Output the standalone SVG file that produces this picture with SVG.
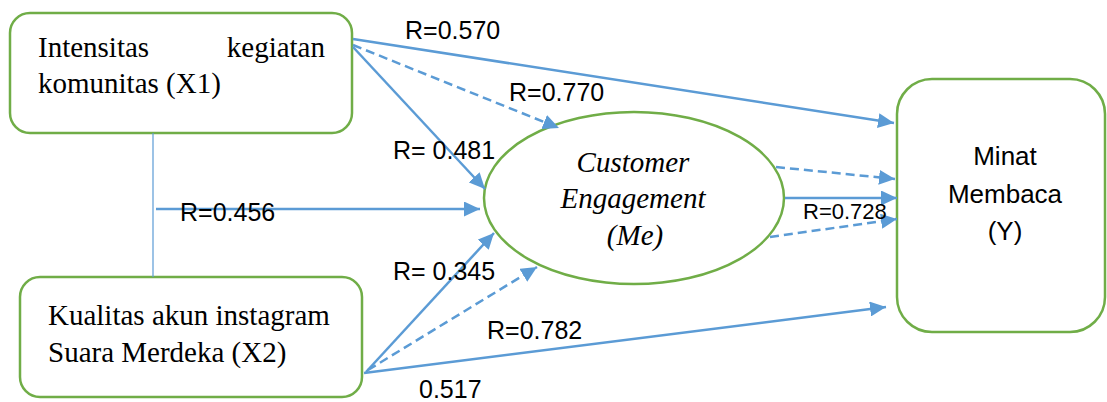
<svg xmlns="http://www.w3.org/2000/svg" width="1107" height="402" viewBox="0 0 1107 402">
<style>
.node{fill:#fff;stroke:#70AD47;stroke-width:2.5}
.serif{font-family:"Liberation Serif","Times New Roman",serif;font-size:29px;fill:#000}
.ital{font-style:italic}
.sans{font-family:"Liberation Sans",Arial,sans-serif;fill:#000}
.lbl{font-size:25px}
.c{fill:none;stroke:#5B9BD5;stroke-width:2.5}
.d{stroke-dasharray:9 5}
</style>
<defs>
<marker id="ah" markerUnits="userSpaceOnUse" markerWidth="17" markerHeight="15" refX="16" refY="7.5" orient="auto">
<path d="M0,0 L16,7.5 L0,15 z" fill="#5B9BD5"/>
</marker>
</defs>
<rect width="1107" height="402" fill="#fff"/>
<g id="x1">
<rect class="node" x="10" y="13" width="342" height="120" rx="20"/>
<text class="serif" x="38" y="57">Intensitas</text>
<text class="serif" x="325" y="57" text-anchor="end">kegiatan</text>
<text class="serif" x="38" y="93">komunitas (X1)</text>
</g>
<g id="x2">
<rect class="node" x="20" y="277" width="342" height="120" rx="20"/>
<text class="serif" x="48" y="325">Kualitas akun instagram</text>
<text class="serif" x="48" y="362">Suara Merdeka (X2)</text>
</g>
<g id="me">
<ellipse class="node" cx="634" cy="198" rx="150" ry="86"/>
<text class="serif ital" x="633" y="172" text-anchor="middle">Customer</text>
<text class="serif ital" x="633" y="208" text-anchor="middle">Engagement</text>
<text class="serif ital" x="635" y="245" text-anchor="middle">(Me)</text>
</g>
<g id="y">
<rect class="node" x="897" y="79" width="208" height="253" rx="35"/>
<text class="sans" font-size="26" x="1005" y="165" text-anchor="middle">Minat</text>
<text class="sans" font-size="26" x="1005" y="203" text-anchor="middle">Membaca</text>
<text class="sans" font-size="26" x="1005" y="240" text-anchor="middle">(Y)</text>
</g>
<g id="connectors">
<line x1="153" y1="133" x2="153" y2="277" stroke="#5B9BD5" stroke-width="1.2"/>
<line class="c" x1="353" y1="39" x2="894" y2="123" marker-end="url(#ah)"/>
<line class="c d" x1="353" y1="45" x2="559" y2="128" marker-end="url(#ah)"/>
<line class="c" x1="353" y1="47" x2="485" y2="189" marker-end="url(#ah)"/>
<line class="c" x1="156" y1="209" x2="480" y2="209" marker-end="url(#ah)"/>
<line class="c" x1="366" y1="372" x2="494" y2="233" marker-end="url(#ah)"/>
<line class="c d" x1="368" y1="370" x2="537" y2="267" marker-end="url(#ah)"/>
<line class="c" x1="364" y1="373" x2="886" y2="307" marker-end="url(#ah)"/>
<line class="c d" x1="776" y1="167" x2="895" y2="179" marker-end="url(#ah)"/>
<line class="c" x1="785" y1="198" x2="897" y2="198" marker-end="url(#ah)"/>
<line class="c d" x1="770" y1="237" x2="897" y2="219" marker-end="url(#ah)"/>
</g>
<g id="labels">
<text class="sans lbl" x="405" y="39">R=0.570</text>
<text class="sans lbl" x="509" y="101">R=0.770</text>
<text class="sans lbl" x="393" y="159">R= 0.481</text>
<text class="sans lbl" x="180" y="221">R=0.456</text>
<text class="sans lbl" x="393" y="280">R= 0.345</text>
<text class="sans lbl" x="487" y="339">R=0.782</text>
<text class="sans lbl" x="419" y="398">0.517</text>
<text class="sans" font-size="22" x="803" y="219">R=0.728</text>
</g>
</svg>
